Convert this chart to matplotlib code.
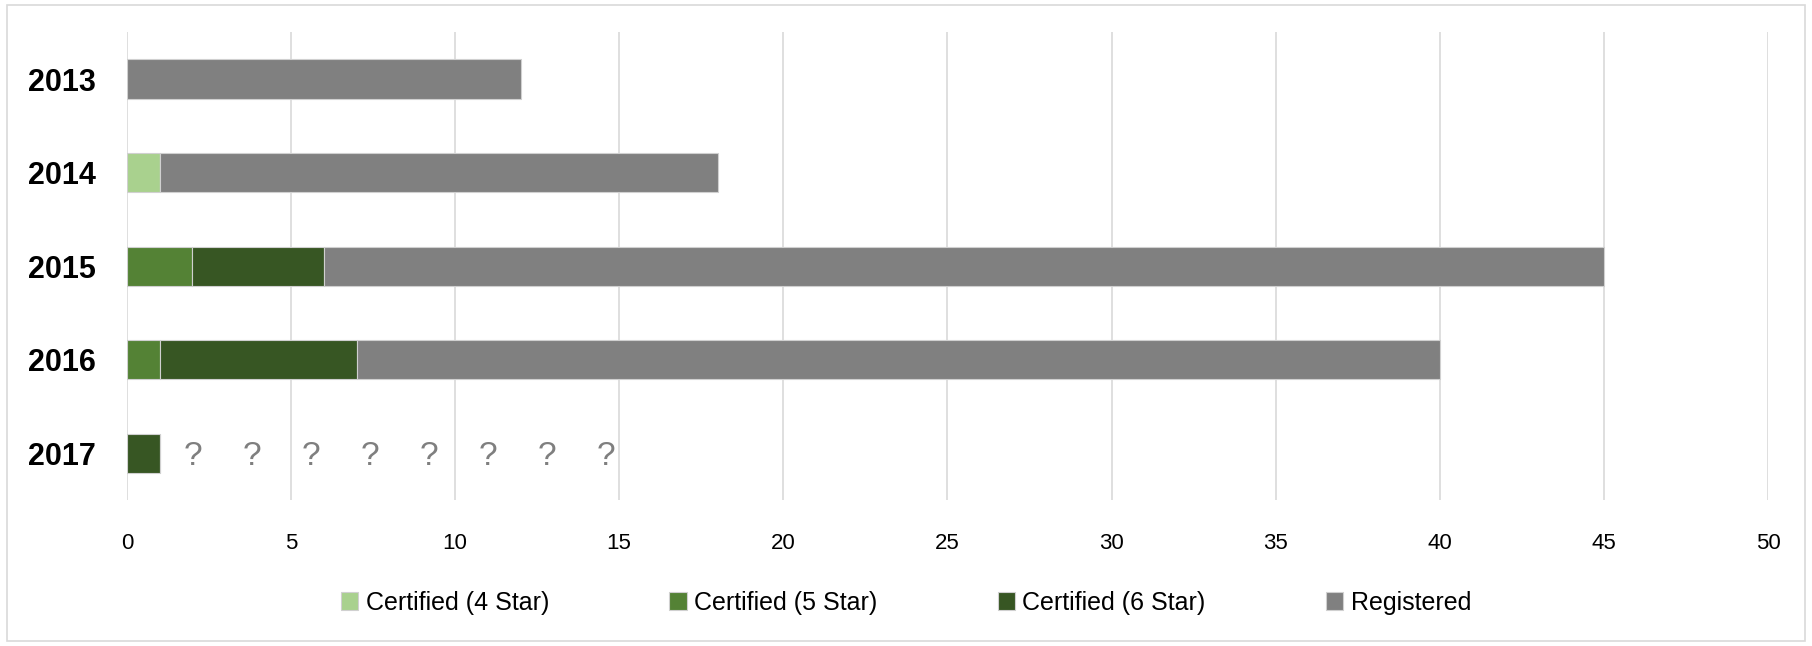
import matplotlib

matplotlib.use("Agg")
import matplotlib.pyplot as plt
from matplotlib.patches import Rectangle
import numpy as np

plt.rcParams["font.family"] = ["Liberation Sans", "DejaVu Sans"]

years = ["2013", "2014", "2015", "2016", "2017"]
star4 = [0, 1, 0, 0, 0]
star5 = [0, 0, 2, 1, 0]
star6 = [0, 0, 4, 6, 1]
registered = [12, 17, 39, 33, 0]
unknown_marks = ["?"] * 8

series = [
    ("Certified (4 Star)", star4, "#a9d18e"),
    ("Certified (5 Star)", star5, "#548235"),
    ("Certified (6 Star)", star6, "#375623"),
    ("Registered", registered, "#808080"),
]

fig = plt.figure(figsize=(18.12, 6.46), dpi=100)
ax = fig.add_axes([0.070, 0.226, 0.9057, 0.724])

y = np.arange(len(years))
left = np.zeros(len(years))
for label, vals, color in series:
    vals = np.asarray(vals, dtype=float)
    ax.barh(y, vals, left=left, height=0.42, color=color, label=label,
            edgecolor="#d0d0d0", linewidth=0.8, zorder=3)
    left += vals

# question marks for the unknown 2017 registrations
last = len(years) - 1
for i, q in enumerate(unknown_marks):
    ax.text(left[last] + 1.0 + i * 1.8, y[last] + 0.03, q, ha="center", va="center",
            fontsize=24, color="#7f7f7f")

ax.set_xlim(0, 50)
ax.set_ylim(len(years) - 0.5, -0.5)
ax.set_xticks(np.arange(0, 51, 5))
ax.set_yticks(y)
ax.set_yticklabels(years, fontsize=22, fontweight="bold")
ax.tick_params(axis="x", labelsize=16, length=0, pad=24)
ax.tick_params(axis="y", length=0, pad=22)
ax.grid(axis="x", color="#d9d9d9", lw=1.2, zorder=0)
for s in ax.spines.values():
    s.set_visible(False)

# legend is centred on the figure, not the axes
leg = fig.legend(loc="upper center", bbox_to_anchor=(0.5, 0.12), ncol=4, frameon=False,
                 fontsize=18, handlelength=0.7, handleheight=0.7, handletextpad=0.3,
                 columnspacing=4.8)

fig.patches.append(Rectangle((0.004, 0.008), 0.992, 0.984, transform=fig.transFigure,
                             fill=False, edgecolor="#d9d9d9", lw=1.2))

fig.savefig("out.png", dpi=100)
